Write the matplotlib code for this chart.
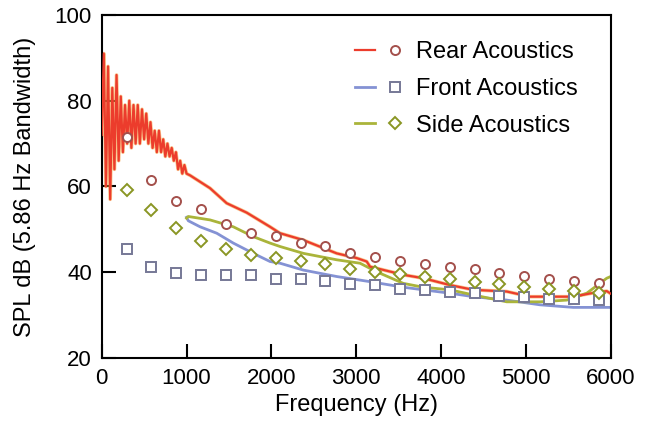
import matplotlib
matplotlib.use("Agg")
import matplotlib.pyplot as plt
from matplotlib.legend_handler import HandlerTuple

plt.rcParams['font.family'] = ['Liberation Sans', 'DejaVu Sans']

# rear acoustics trace (0-1000 Hz oscillates, then smooth)
rear_freq = [0, 25, 50, 75, 100, 125, 150, 175, 200, 225, 250, 275, 300, 325, 350,
             375, 400, 425, 450, 475, 500, 525, 550, 575, 600, 625, 650, 675, 700,
             725, 750, 775, 800, 825, 850, 875, 900, 925, 950, 975, 1000,
             1041, 1277, 1473, 1709, 1984, 2102, 2377, 2770, 3006, 3124, 3163,
             3555, 3791, 4106, 4381, 4774, 5049, 5556, 5800, 5953, 6000]
rear_spl = [72, 91, 60, 88, 57, 83, 64, 86, 66, 81, 68, 79, 70, 80, 69,
            79, 70, 79, 70, 78, 71, 77, 70, 75, 69, 73, 68, 73, 68,
            71, 67, 70, 67, 69, 66, 68, 64, 66, 63, 65, 63,
            62.6, 59.6, 56.1, 53.9, 50.6, 49.1, 47.5, 44.4, 43.3, 42.5, 41.3,
            39.4, 38.6, 37.0, 35.9, 35.5, 34.3, 34.3, 35.2, 35.6, 35.0]

front_freq = [1000, 1021, 1159, 1356, 1551, 1787, 1984, 2102, 2377, 2770, 3163,
              3555, 4106, 4381, 4774, 5167, 5559, 5953, 6000]
front_spl = [52.8, 52.0, 50.6, 49.1, 46.8, 44.4, 42.5, 42.1, 40.5, 39.0, 37.8,
             36.5, 35.1, 34.3, 33.5, 32.4, 31.8, 31.8, 31.8]

side_freq = [1000, 1021, 1277, 1551, 1787, 1984, 2102, 2377, 2770, 3045, 3242,
             3555, 3791, 4106, 4381, 4774, 5167, 5482, 5717, 5953, 6000]
side_spl = [52.6, 53.0, 52.2, 50.6, 48.3, 46.8, 46.0, 44.4, 42.9, 42.1, 40.1,
            37.4, 36.5, 35.9, 34.7, 33.1, 33.1, 33.5, 35.1, 38.6, 39.0]

# sampled markers every 293 Hz
mark_freq = [293, 586, 879, 1172, 1465, 1758, 2051, 2344, 2637, 2930,
             3223, 3516, 3809, 4102, 4395, 4688, 4981, 5274, 5567, 5860]
rear_mark = [71.6, 61.5, 56.6, 54.7, 51.3, 49.2, 48.5, 46.8, 46.1, 44.6,
             43.6, 42.7, 41.9, 41.3, 40.7, 39.8, 39.1, 38.5, 38.0, 37.6]
front_mark = [45.5, 41.3, 39.8, 39.4, 39.4, 39.4, 38.4, 38.5, 38.0, 37.3,
              37.0, 36.2, 35.9, 35.4, 35.2, 34.5, 34.2, 33.8, 33.7, 33.5]
side_mark = [59.2, 54.5, 50.3, 47.4, 45.5, 44.0, 43.3, 42.6, 41.9, 40.8,
             40.1, 39.6, 39.0, 38.4, 37.7, 37.3, 36.6, 36.2, 35.7, 35.2]

labels = ['Rear Acoustics', 'Front Acoustics', 'Side Acoustics']

fig = plt.figure(figsize=(6.49, 4.24), dpi=100)
ax = fig.add_axes([0.1567, 0.1557, 0.7843, 0.809])

# orange halo under the red trace, like the scan
ax.plot(rear_freq, rear_spl, color='#f6a040', lw=2.6, alpha=0.6, zorder=2)
l_rear, = ax.plot(rear_freq, rear_spl, color='#ec3c2c', lw=1.6, zorder=3)
l_front, = ax.plot(front_freq, front_spl, color='#8492d4', lw=2.0, zorder=2)
l_side, = ax.plot(side_freq, side_spl, color='#aab43a', lw=2.0, zorder=2)

m_rear, = ax.plot(mark_freq, rear_mark, 'o', ms=6.5, mfc='white', mec='#a4504c', mew=1.4, zorder=5)
m_front, = ax.plot(mark_freq, front_mark, 's', ms=6.5, mfc='white', mec='#767896', mew=1.4, zorder=5)
m_side, = ax.plot(mark_freq, side_mark, 'D', ms=6, mfc='white', mec='#8a9624', mew=1.4, zorder=5)

ax.set_xlim(0, 6000)
ax.set_ylim(20, 100)
ax.set_xticks(range(0, 6001, 1000))
ax.set_yticks(range(20, 101, 20))
ax.tick_params(direction='in', length=10, width=1.5, labelsize=16, pad=7,
               top=False, right=False)
for s in ax.spines.values():
    s.set_linewidth(1.5)

ax.set_xlabel('Frequency (Hz)', fontsize=17)
ax.set_ylabel('SPL dB (5.86 Hz Bandwidth)', fontsize=17)
ax.xaxis.set_label_coords(0.5, -0.105)
ax.yaxis.set_label_coords(-0.13, 0.5)

leg = ax.legend([(l_rear, m_rear), (l_front, m_front), (l_side, m_side)], labels,
                handler_map={tuple: HandlerTuple(ndivide=None, pad=0.4)},
                loc='center left', bbox_to_anchor=(0.547, 0.79),
                bbox_transform=fig.transFigure, frameon=False, fontsize=17,
                handlelength=2.1, handletextpad=0.5, labelspacing=0.62,
                borderpad=0, borderaxespad=0)

fig.savefig('out.png', dpi=100)
